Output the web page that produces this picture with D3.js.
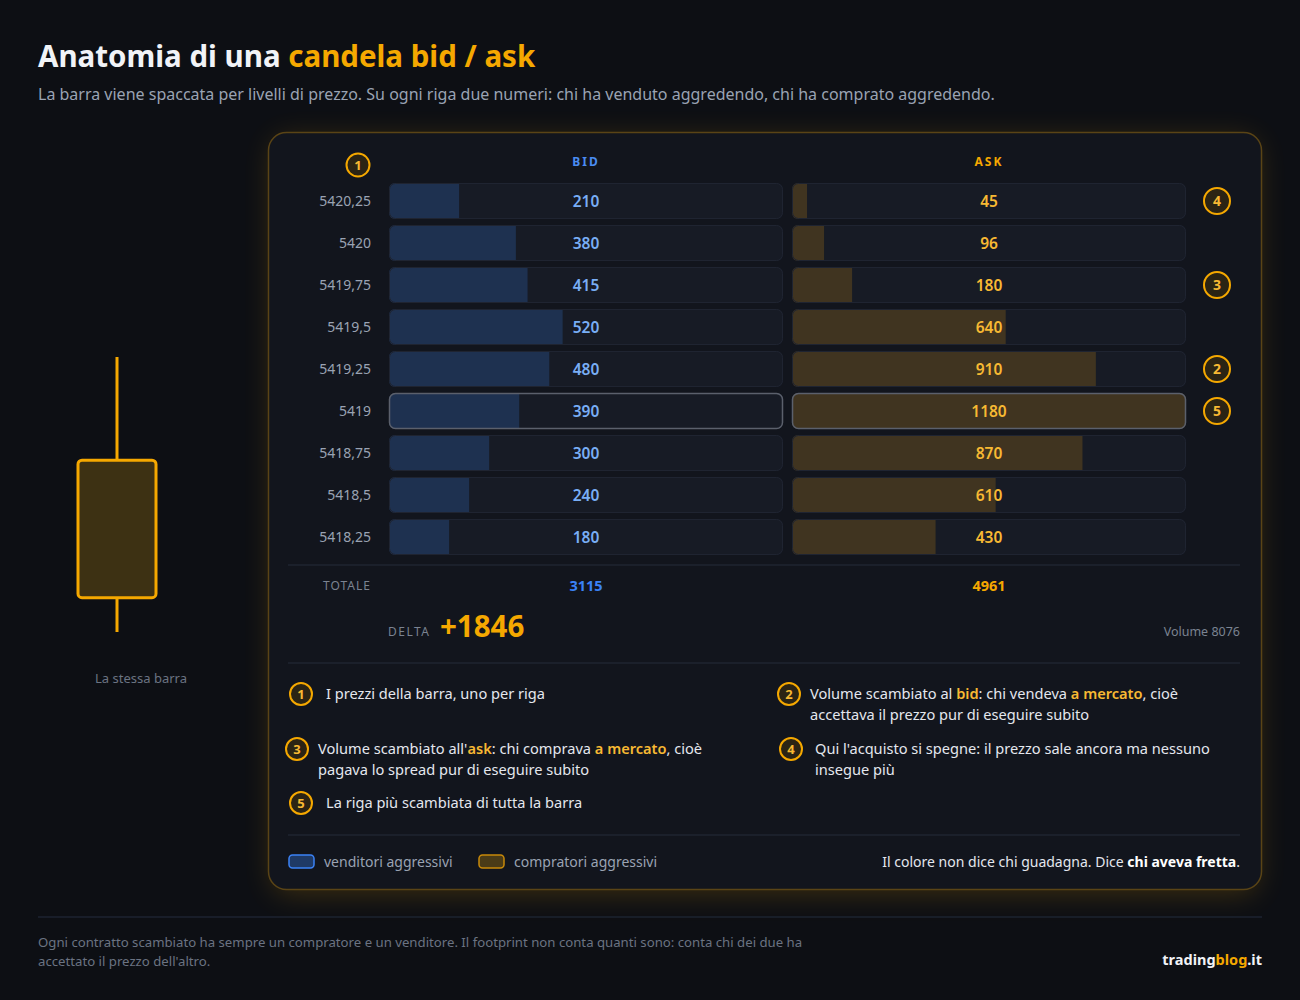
<!DOCTYPE html>
<meta charset="utf-8">
<html>
<head>
    <title>Anatomia di una candela bid / ask</title>
    <script src="https://cdn.jsdelivr.net/npm/d3@7"></script>
</head>

<style>
    body{
        margin: 0;
        background: #0d0f14;
    }
    svg{
        display: block;
    }
    text{
        font-family: "Noto Sans", "Open Sans", sans-serif;
    }
</style>

<body>
<svg width="1300" height="1000"></svg>
<script>

    // data
    let prices = [5420.25, 5420, 5419.75, 5419.5, 5419.25, 5419, 5418.75, 5418.5, 5418.25]
    let bidVol = [210, 380, 415, 520, 480, 390, 300, 240, 180]
    let askVol = [45, 96, 180, 640, 910, 1180, 870, 610, 430]
    // candle: open / close read from the body on the left
    let candleOpen = 5418.5
    let candleClose = 5419.5
    // numbered markers on the right side of the table
    let markerRows = [0, 2, 4, 5]
    let markerNums = [4, 3, 2, 5]
    // notes: each line is a list of [text, highlighted]
    let notes = [
        {n: 1, lines: [[["I prezzi della barra, uno per riga", false]]]},
        {n: 2, lines: [[["Volume scambiato al ", false], ["bid", true], [": chi vendeva ", false], ["a mercato", true], [", cioè", false]],
                       [["accettava il prezzo pur di eseguire subito", false]]]},
        {n: 3, lines: [[["Volume scambiato all'", false], ["ask", true], [": chi comprava ", false], ["a mercato", true], [", cioè", false]],
                       [["pagava lo spread pur di eseguire subito", false]]]},
        {n: 4, lines: [[["Qui l'acquisto si spegne: il prezzo sale ancora ma nessuno", false]],
                       [["insegue più", false]]]},
        {n: 5, lines: [[["La riga più scambiata di tutta la barra", false]]]}
    ]
    let legendLabels = ["venditori aggressivi", "compratori aggressivi"]

    let gold = "#f5a800"
    let blue = "#3b82f6"
    let fmtPrice = p => String(p).replace(".", ",")

    let svg = d3.select("svg")
    let defs = svg.append("defs")
    let glow = defs.append("filter").attr("id", "glow")
        .attr("x", "-20%").attr("y", "-20%").attr("width", "140%").attr("height", "140%")
    glow.append("feGaussianBlur").attr("stdDeviation", 14)

    //*****************************
    // title
    let title = svg.append("text").attr("x", 38).attr("y", 67)
        .style("font-size", "29.5px").style("font-weight", 700)
    title.append("tspan").attr("fill", "#f1f3f7").text("Anatomia di una ")
    title.append("tspan").attr("fill", gold).text("candela bid / ask")

    svg.append("text").attr("x", 38).attr("y", 100)
        .attr("fill", "#9aa3b3").style("font-size", "16px")
        .text("La barra viene spaccata per livelli di prezzo. Su ogni riga due numeri: chi ha venduto aggredendo, chi ha comprato aggredendo.")

    //*****************************
    // card with golden glow
    svg.append("rect").attr("x", 272).attr("y", 138).attr("width", 986).attr("height", 756)
        .attr("rx", 18).attr("fill", gold).attr("opacity", 0.2).attr("filter", "url(#glow)")
    svg.append("rect").attr("x", 268.5).attr("y", 132.5).attr("width", 993).attr("height", 757)
        .attr("rx", 18).attr("fill", "#12151d").attr("stroke", "#5a4416").attr("stroke-width", 1.5)

    //*****************************
    // scales
    let y = d3.scaleBand().domain(prices).range([180, 558])
        .paddingInner(6 / 42).paddingOuter(3 / 42)
    let cellW = 394
    let bidX = 389
    let askX = 792
    let x = d3.scaleLinear().domain([0, d3.max(bidVol.concat(askVol))]).range([0, cellW])

    let totals = prices.map((p, i) => bidVol[i] + askVol[i])
    let hotRow = totals.indexOf(d3.max(totals))

    // badge helper
    function badge(g, cx, cy, n, r) {
        let b = g.append("g").attr("transform", `translate(${cx},${cy})`)
        b.append("circle").attr("r", r).attr("fill", "#2b2414").attr("stroke", gold).attr("stroke-width", 2)
        b.append("text").attr("text-anchor", "middle").attr("dy", "0.36em")
            .attr("fill", "#f7b933").style("font-size", r > 12 ? "14px" : "13px").style("font-weight", 700).text(n)
    }

    //*****************************
    // headers
    badge(svg, 358, 165, 1, 11.5)
    svg.append("text").attr("x", bidX + cellW / 2).attr("y", 166).attr("text-anchor", "middle")
        .attr("fill", "#4a8cf2").style("font-size", "12px").style("font-weight", 700)
        .style("letter-spacing", "2px").text("BID")
    svg.append("text").attr("x", askX + cellW / 2).attr("y", 166).attr("text-anchor", "middle")
        .attr("fill", gold).style("font-size", "12px").style("font-weight", 700)
        .style("letter-spacing", "2px").text("ASK")

    //*****************************
    // rows
    let rows = svg.selectAll("g.row")
        .data(prices)
        .enter()
        .append("g")
        .attr("class", "row")
        .attr("transform", d => `translate(0,${y(d)})`)

    rows.append("text")
        .attr("x", 371).attr("y", y.bandwidth() / 2).attr("dy", "0.35em")
        .attr("text-anchor", "end").attr("fill", "#9aa3b3").style("font-size", "14px")
        .text(d => fmtPrice(d))

    let sides = [
        {x0: bidX, vals: bidVol, bar: "#1e3150", txt: "#79aef5"},
        {x0: askX, vals: askVol, bar: "#403420", txt: "#f7b933"}
    ]
    sides.forEach(s => {
        let cell = rows.append("g").attr("transform", `translate(${s.x0},0)`)
        cell.append("clipPath").attr("id", (d, i) => `clip-${s.x0}-${i}`)
            .append("rect").attr("width", cellW).attr("height", y.bandwidth()).attr("rx", 6)
        cell.append("rect")
            .attr("width", cellW).attr("height", y.bandwidth()).attr("rx", 6)
            .attr("fill", "#171b25")
        cell.append("rect")
            .attr("clip-path", (d, i) => `url(#clip-${s.x0}-${i})`)
            .attr("width", (d, i) => x(s.vals[i])).attr("height", y.bandwidth())
            .attr("fill", s.bar)
        cell.append("rect")
            .attr("x", 0.5).attr("y", 0.5)
            .attr("width", cellW - 1).attr("height", y.bandwidth() - 1).attr("rx", 6)
            .attr("fill", "none")
            .attr("stroke", (d, i) => i === hotRow ? "#5b606c" : "#1f2431")
            .attr("stroke-width", (d, i) => i === hotRow ? 1.5 : 1)
        cell.append("text")
            .attr("x", cellW / 2).attr("y", y.bandwidth() / 2).attr("dy", "0.36em")
            .attr("text-anchor", "middle").attr("fill", s.txt)
            .style("font-size", "15.5px").style("font-weight", 600)
            .text((d, i) => s.vals[i])
    })

    // markers on the right
    markerRows.forEach((r, i) => badge(svg, 1217, y(prices[r]) + y.bandwidth() / 2, markerNums[i], 13))

    //*****************************
    // totals and delta
    let sep = yy => svg.append("line").attr("x1", 288).attr("x2", 1240).attr("y1", yy).attr("y2", yy)
        .attr("stroke", "#1f2531").attr("stroke-width", 1.5)
    sep(565)

    let bidTot = d3.sum(bidVol)
    let askTot = d3.sum(askVol)
    svg.append("text").attr("x", 371).attr("y", 590).attr("text-anchor", "end")
        .attr("fill", "#7b8391").style("font-size", "12px").style("letter-spacing", "1px").text("TOTALE")
    svg.append("text").attr("x", bidX + cellW / 2).attr("y", 591).attr("text-anchor", "middle")
        .attr("fill", blue).style("font-size", "14.5px").style("font-weight", 700).text(bidTot)
    svg.append("text").attr("x", askX + cellW / 2).attr("y", 591).attr("text-anchor", "middle")
        .attr("fill", gold).style("font-size", "14.5px").style("font-weight", 700).text(askTot)

    svg.append("text").attr("x", 388).attr("y", 636)
        .attr("fill", "#7b8391").style("font-size", "12px").style("letter-spacing", "1.5px").text("DELTA")
    svg.append("text").attr("x", 440).attr("y", 637)
        .attr("fill", gold).style("font-size", "29.5px").style("font-weight", 700)
        .text(d3.format("+")(askTot - bidTot))
    svg.append("text").attr("x", 1240).attr("y", 636).attr("text-anchor", "end")
        .attr("fill", "#7b8391").style("font-size", "12.5px").text("Volume " + (bidTot + askTot))

    sep(663)

    //*****************************
    // notes
    let notePos = {1: [301, 694, 326], 2: [789, 694, 810], 3: [297, 749, 318], 4: [791, 749, 815], 5: [301, 803, 326]}
    notes.forEach(nt => {
        let p = notePos[nt.n]
        badge(svg, p[0], p[1], nt.n, 11)
        nt.lines.forEach((line, li) => {
            let t = svg.append("text").attr("x", p[2]).attr("y", p[1] + 5 + li * 21)
                .attr("fill", "#e4e7ee").style("font-size", "14.6px")
            line.forEach(seg => {
                t.append("tspan").text(seg[0])
                    .attr("fill", seg[1] ? "#f7b933" : null)
                    .style("font-weight", seg[1] ? 600 : null)
            })
        })
    })

    sep(835)

    //*****************************
    // legend
    let legColors = [["#1f3a66", blue], ["#4a3b17", "#c8890a"]]
    let legX = [289, 479]
    legendLabels.forEach((l, i) => {
        svg.append("rect").attr("x", legX[i]).attr("y", 855).attr("width", 25).attr("height", 13).attr("rx", 3.5)
            .attr("fill", legColors[i][0]).attr("stroke", legColors[i][1]).attr("stroke-width", 1.5)
        svg.append("text").attr("x", legX[i] + 35).attr("y", 867)
            .attr("fill", "#9aa3b3").style("font-size", "14px").text(l)
    })
    let msg = svg.append("text").attr("x", 1240).attr("y", 867).attr("text-anchor", "end")
        .attr("fill", "#e4e7ee").style("font-size", "14px")
    msg.append("tspan").text("Il colore non dice chi guadagna. Dice ")
    msg.append("tspan").style("font-weight", 700).attr("fill", "#ffffff").text("chi aveva fretta")
    msg.append("tspan").text(".")

    //*****************************
    // candle on the left, same price range as the table
    let cy = d3.scaleLinear().domain([d3.min(prices), d3.max(prices)]).range([632, 357])
    svg.append("line").attr("x1", 117).attr("x2", 117)
        .attr("y1", cy(d3.max(prices))).attr("y2", cy(d3.min(prices)))
        .attr("stroke", gold).attr("stroke-width", 3)
    svg.append("rect").attr("x", 78).attr("width", 78)
        .attr("y", cy(Math.max(candleOpen, candleClose)))
        .attr("height", cy(Math.min(candleOpen, candleClose)) - cy(Math.max(candleOpen, candleClose)))
        .attr("rx", 4).attr("fill", "#3d3113").attr("stroke", gold).attr("stroke-width", 3)
    svg.append("text").attr("x", 141).attr("y", 683).attr("text-anchor", "middle")
        .attr("fill", "#6b7382").style("font-size", "13px").text("La stessa barra")

    //*****************************
    // footer
    svg.append("line").attr("x1", 38).attr("x2", 1262).attr("y1", 917).attr("y2", 917)
        .attr("stroke", "#1d2330").attr("stroke-width", 1.5)
    let foot = ["Ogni contratto scambiato ha sempre un compratore e un venditore. Il footprint non conta quanti sono: conta chi dei due ha",
                "accettato il prezzo dell'altro."]
    svg.selectAll("text.foot").data(foot).enter().append("text").attr("class", "foot")
        .attr("x", 38).attr("y", (d, i) => 947 + i * 19)
        .attr("fill", "#6b7382").style("font-size", "13.2px").text(d => d)
    let brand = svg.append("text").attr("x", 1262).attr("y", 965).attr("text-anchor", "end")
        .style("font-size", "14.5px").style("font-weight", 700).attr("fill", "#f1f3f7")
    brand.append("tspan").text("trading")
    brand.append("tspan").attr("fill", gold).text("blog")
    brand.append("tspan").text(".it")
</script>
</body>
</html>
